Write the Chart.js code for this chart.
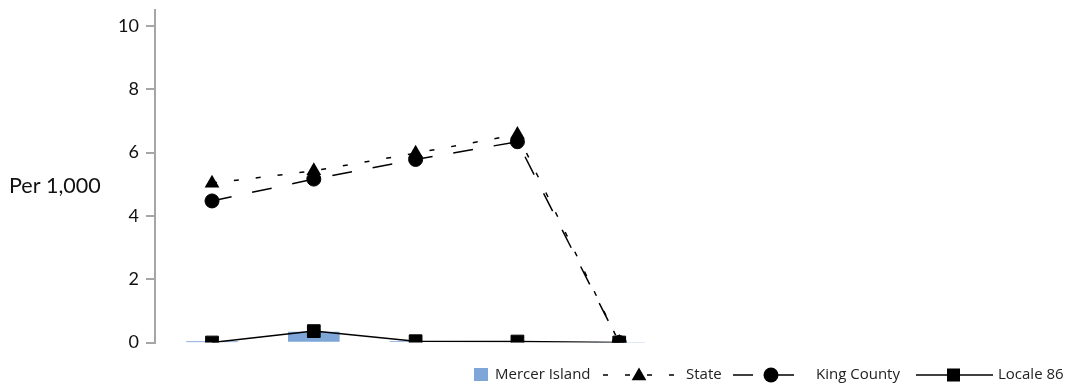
<!DOCTYPE html>
<html>
<head>
<meta charset="utf-8">
<script src="https://cdn.jsdelivr.net/npm/chart.js@4/dist/chart.umd.min.js"></script>
<style>
html,body{margin:0;padding:0;background:#fff;}
#wrap{width:1068px;height:386px;}
</style>
</head>
<body>
<div id="wrap"><canvas id="ch" width="1068" height="386"></canvas></div>
<script>
// categories have no visible labels in the picture
var categories = ['P1','P2','P3','P4','P5'];
var mercerIsland = [0.02, 0.33, 0.04, 0.03, 0];
var state = [5.03, 5.42, 5.98, 6.57, 0];
var kingCounty = [4.47, 5.16, 5.78, 6.34, 0];
var locale86 = [0, 0.36, 0.04, 0.03, 0];
var yTicks = [0, 2, 4, 6, 8, 10];
var yTitle = 'Per 1,000';

var BLUE = '#7ea6d8', INK = '#000', AXIS = '#a6a6a6';
var pts = function(arr){ return arr.map(function(v,i){ return {x:i, y:v}; }); };

function tri(ctx, x, y, r){
  ctx.beginPath();
  ctx.moveTo(x, y - r);
  ctx.lineTo(x + r*0.866, y + r*0.5);
  ctx.lineTo(x - r*0.866, y + r*0.5);
  ctx.closePath(); ctx.fill();
}
function seg(ctx, x1, x2, y, dash){
  ctx.save(); ctx.setLineDash(dash||[]); ctx.lineWidth = 1.5; ctx.strokeStyle = INK;
  ctx.beginPath(); ctx.moveTo(x1, y); ctx.lineTo(x2, y); ctx.stroke(); ctx.restore();
}

// horizontal y title + legend drawn by hand (line+marker samples of varying width)
var extras = {
  id: 'extras',
  afterDraw: function(chart){
    var ctx = chart.ctx, y = 375;
    ctx.save();
    ctx.fillStyle = '#111';
    ctx.font = '21.5px Lato';
    ctx.textAlign = 'left'; ctx.textBaseline = 'alphabetic';
    ctx.fillText(yTitle, 9, 193);

    ctx.font = '15px "Open Sans"';
    ctx.textBaseline = 'middle';
    ctx.fillStyle = BLUE; ctx.fillRect(474, 368, 14, 13);
    ctx.fillStyle = '#222'; ctx.fillText('Mercer Island', 495, y);

    seg(ctx, 603, 674, y, [5,17]);
    ctx.fillStyle = INK; tri(ctx, 639, y + 1, 8.5);
    ctx.fillStyle = '#222'; ctx.fillText('State', 686, y);

    seg(ctx, 733, 797, y, [20,21]);
    ctx.fillStyle = INK; ctx.beginPath(); ctx.arc(771, y, 7.5, 0, Math.PI*2); ctx.fill();
    ctx.fillStyle = '#222'; ctx.fillText('King County', 816, y);

    seg(ctx, 916, 993, y);
    ctx.fillStyle = INK; ctx.fillRect(947, y - 6.5, 13, 13);
    ctx.fillStyle = '#222'; ctx.fillText('Locale 86', 998, y);
    ctx.restore();
  }
};

new Chart(document.getElementById('ch'), {
  type: 'bar',
  data: {
    datasets: [
      {label:'Mercer Island', type:'bar', data:pts(mercerIsland), backgroundColor:BLUE, barThickness:51, order:4},
      {label:'State', type:'line', data:pts(state), borderColor:INK, borderWidth:1.5, borderDash:[5,17], tension:0,
        pointStyle:'triangle', pointRadius:8.5, pointBackgroundColor:INK, pointBorderColor:INK, pointBorderWidth:0, order:3},
      {label:'King County', type:'line', data:pts(kingCounty), borderColor:INK, borderWidth:1.5, borderDash:[20,21], tension:0,
        pointStyle:'circle', pointRadius:7, pointBackgroundColor:INK, pointBorderColor:INK, pointBorderWidth:1, order:2},
      {label:'Locale 86', type:'line', data:pts(locale86), borderColor:INK, borderWidth:1.5, tension:0,
        pointStyle:'rect', pointRadius:9, pointBackgroundColor:INK, pointBorderColor:INK, pointBorderWidth:1, order:1}
    ]
  },
  options: {
    responsive: false,
    animation: false,
    layout: {padding: {top: 6.5, bottom: 43.5, left: 0, right: 10}},
    plugins: {legend: {display: false}, tooltip: {enabled: false}},
    scales: {
      x: {type: 'linear', display: false, offset: false, min: -0.56, max: 8.31},
      y: {
        min: 0, max: 10.5,
        afterFit: function(s){ s.width = 155; s.paddingTop = 0; s.paddingBottom = 0; },
        afterBuildTicks: function(s){ s.ticks = yTicks.map(function(v){ return {value: v}; }); },
        border: {display: true, color: AXIS, width: 2},
        grid: {drawOnChartArea: false, drawTicks: true, tickLength: 9, color: AXIS, lineWidth: 2},
        ticks: {padding: 7, color: '#111', font: {family: 'Lato', size: 18}}
      }
    }
  },
  plugins: [extras]
});
</script>
</body>
</html>
